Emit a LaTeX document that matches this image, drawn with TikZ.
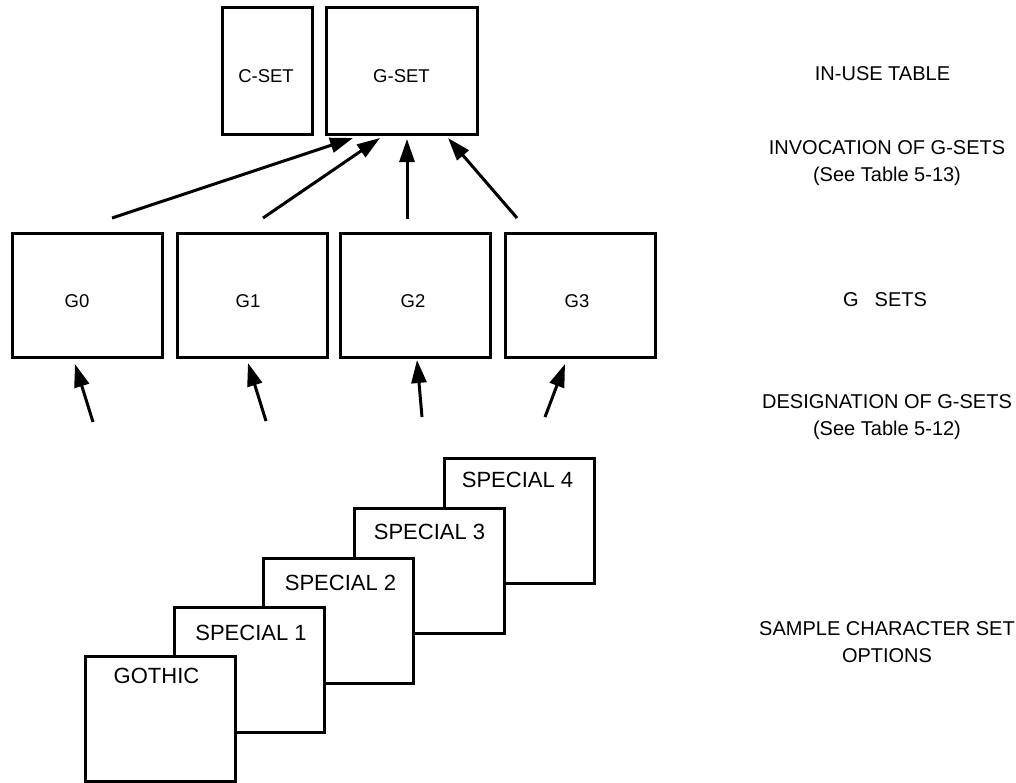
\documentclass[tikz,border=0pt]{standalone}
\usepackage{fontspec}
\setmainfont{Liberation Sans}
\usetikzlibrary{arrows.meta,calc}
\begin{document}
\begin{tikzpicture}[x=1pt,y=-1pt,
  box/.style={draw, line width=3pt, fill=white, inner sep=0pt, outer sep=0pt, anchor=north west},
  tbox/.style={box, minimum width=#1, minimum height=127pt},
  gbox/.style={box, minimum width=150pt, minimum height=124pt},
  cbox/.style={box, minimum width=150pt, minimum height=125pt},
  boxlbl/.style={inner sep=0pt, font=\fontsize{18.5}{22}\selectfont},
  stacklbl/.style={inner sep=0pt, font=\fontsize{22}{26}\selectfont},
  sidelbl/.style={inner sep=0pt, align=center, font=\fontsize{20}{27}\selectfont},
  arr/.style={line width=3pt, -{Triangle[length=23pt,width=15pt]}}
]
\path[use as bounding box] (0,0) rectangle (1016,782);

% in-use table
\node[tbox=90pt] (cset) at (222,7) {};
\node[tbox=151pt] (gset) at (326,7) {};
\node[boxlbl] (csett) at ($(cset.center)+(-1,6)$) {C-SET};
\node[boxlbl] (gsett) at ($(gset.center)+(0,6)$) {G-SET};

% G sets
\node[gbox] (g0) at (12,233) {};
\node[gbox] (g1) at (177,233) {};
\node[gbox] (g2) at (340,233) {};
\node[gbox] (g3) at (505,233) {};
\node[boxlbl] (g0t) at ($(g0.center)+(-10,6)$) {G0};
\node[boxlbl] (g1t) at ($(g1.center)+(-4,6)$) {G1};
\node[boxlbl] (g2t) at ($(g2.center)+(-2,6)$) {G2};
\node[boxlbl] (g3t) at ($(g3.center)+(-3,6)$) {G3};

% invocation arrows
\coordinate (i0) at (112,218);
\coordinate (i1) at (263,218);
\coordinate (i2) at (407,219);
\coordinate (i3) at (517,218);
\draw[arr] (i0) -- ($(gset.south west)+(27,4)$);
\draw[arr] (i1) -- ($(gset.south west)+(54,4)$);
\draw[arr] (i2) -- ($(gset.south west)+(81,5)$);
\draw[arr] (i3) -- ($(gset.south west)+(122,4)$);

% designation arrows
\coordinate (d0) at (93,422);
\coordinate (d1) at (266,421);
\coordinate (d2) at (422,417);
\coordinate (d3) at (545,417);
\draw[arr] (d0) -- ($(g0.south west)+(63,7)$);
\draw[arr] (d1) -- ($(g1.south west)+(71,6)$);
\draw[arr] (d2) -- ($(g2.south west)+(77,3)$);
\draw[arr] (d3) -- ($(g3.south west)+(60,7)$);

% sample character sets (back to front)
\node[cbox] (s4) at (444,458) {};
\node[stacklbl] (s4t) at ($(s4.north west)+(73.5,22)$) {SPECIAL 4};
\node[cbox] (s3) at (354,508) {};
\node[stacklbl] (s3t) at ($(s3.north west)+(75.5,24)$) {SPECIAL 3};
\node[cbox] (s2) at (263,558) {};
\node[stacklbl] (s2t) at ($(s2.north west)+(77.5,25)$) {SPECIAL 2};
\node[cbox] (s1) at (174,607) {};
\node[stacklbl] (s1t) at ($(s1.north west)+(77,26)$) {SPECIAL 1};
\node[cbox] (goth) at (85,656) {};
\node[stacklbl] (gotht) at ($(goth.north west)+(71.5,20)$) {GOTHIC};

% side labels
\node[sidelbl] (inuse) at (882.5,74) {IN-USE TABLE};
\node[sidelbl] (invoc) at (887,163) {INVOCATION OF G-SETS\\(See Table 5-13)};
\node[sidelbl] (gsets) at (885,300) {G\hspace{0.8em}SETS};
\node[sidelbl] (desig) at (887,417) {DESIGNATION OF G-SETS\\(See Table 5-12)};
\node[sidelbl] (sample) at (887,642) {SAMPLE CHARACTER SET\\OPTIONS};
\end{tikzpicture}
\end{document}
